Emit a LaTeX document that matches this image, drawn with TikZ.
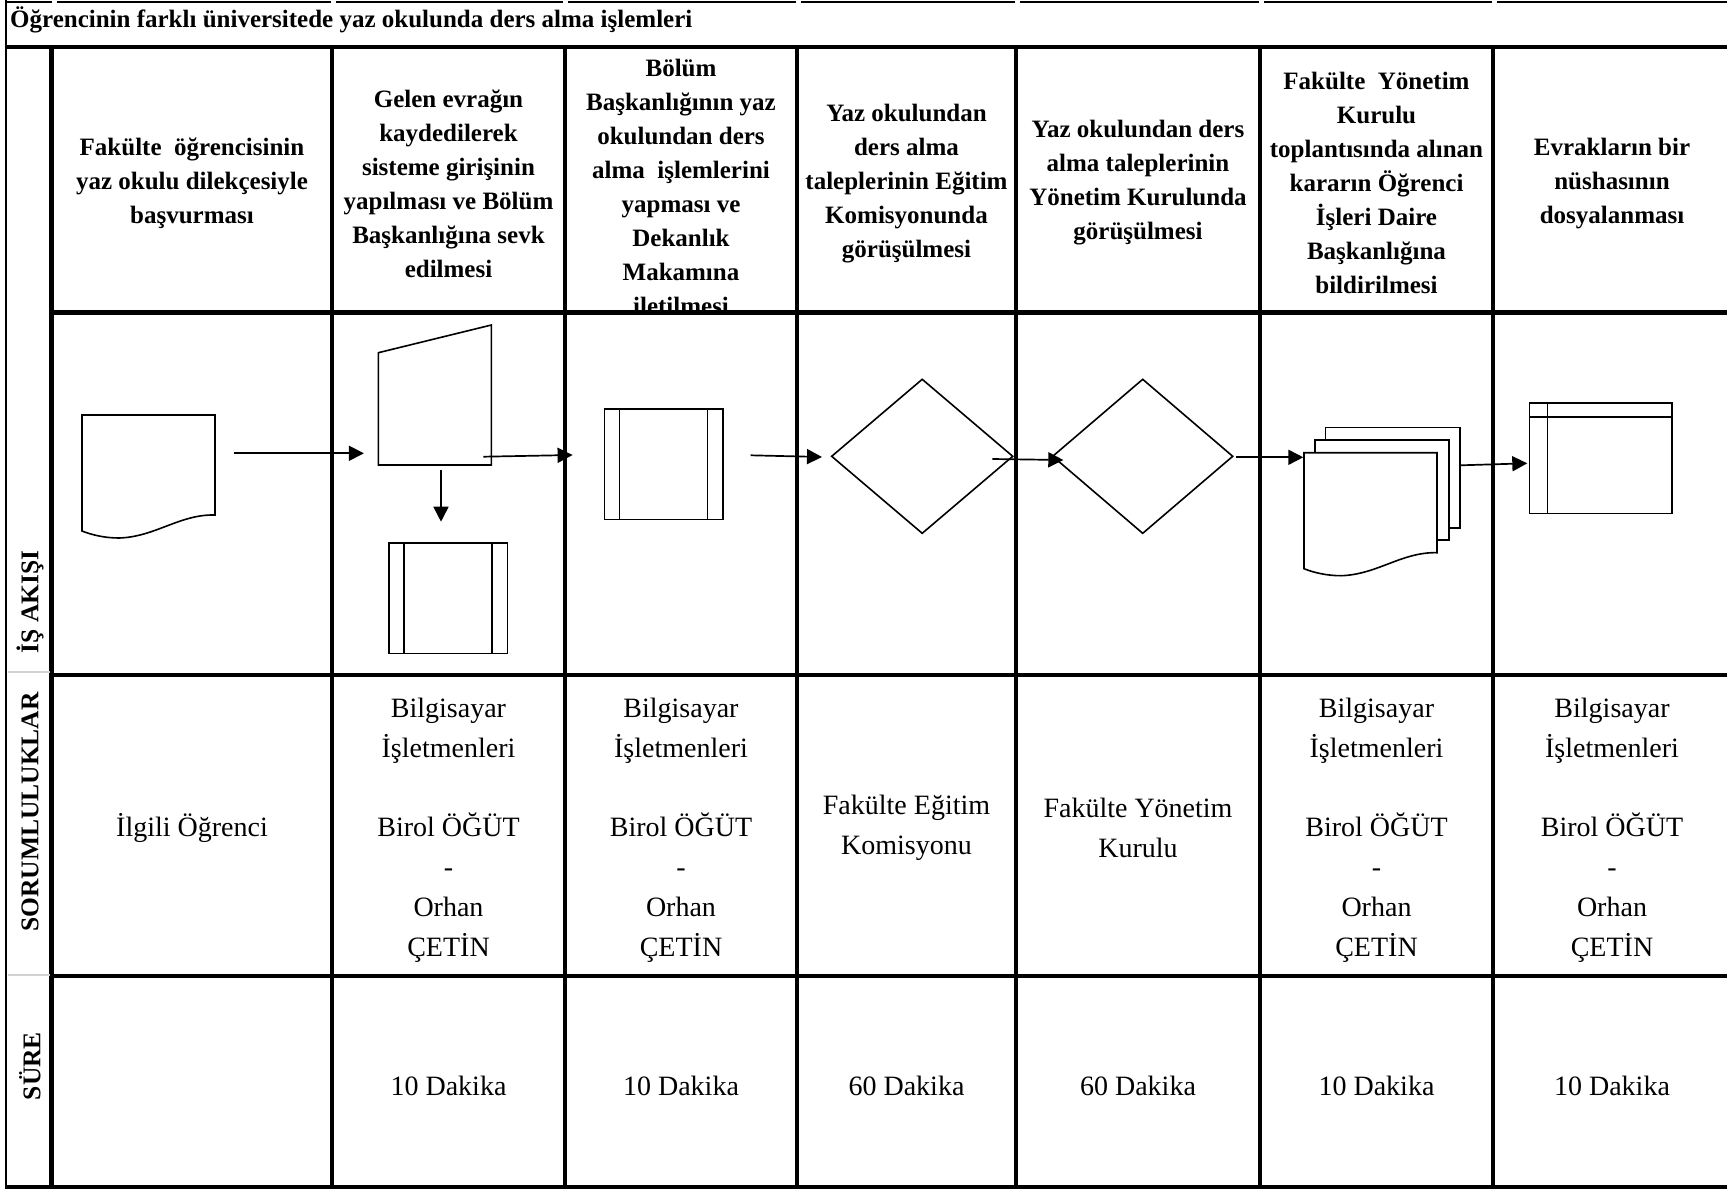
\documentclass[tikz,border=0pt]{standalone}
\usepackage{fontspec}
\setmainfont{Liberation Serif}
\usetikzlibrary{arrows.meta}

\begin{document}
\begin{tikzpicture}[x=1pt,y=-1pt,
  grid/.style={line width=4.5pt},
  frame/.style={line width=2.4pt},
  sep/.style={gray!35, line width=2pt},
  outline/.style={line width=1.6pt, line join=miter},
  flow/.style={line width=1.7pt, -{Triangle[length=15pt,width=15pt]}},
  holder/.style={draw=none, inner sep=0pt, outer sep=0pt, anchor=north west},
  head/.style={font=\bfseries\fontsize{25}{34}\selectfont, align=center, inner sep=0pt},
  body/.style={font=\fontsize{28}{39.8}\selectfont, align=center, inner sep=0pt},
  side/.style={font=\bfseries\fontsize{25.5}{28}\selectfont, rotate=90, inner sep=0pt},
  predef/.style={holder, draw, line width=1.6pt,
    path picture={
      \draw[line width=1.6pt] ([xshift=15.3pt]path picture bounding box.north west) -- ([xshift=15.3pt]path picture bounding box.south west);
      \draw[line width=1.6pt] ([xshift=-15.3pt]path picture bounding box.north east) -- ([xshift=-15.3pt]path picture bounding box.south east);}},
  storage/.style={holder, draw, line width=1.6pt,
    path picture={
      \draw[line width=1.6pt] ([yshift=-14.3pt]path picture bounding box.north west) -- ([yshift=-14.3pt]path picture bounding box.north east);
      \draw[line width=1.6pt] ([xshift=18pt]path picture bounding box.north west) -- ([xshift=18pt]path picture bounding box.south west);}},
  docsheet/.pic={
    \filldraw[outline, fill=white] (0,0) -- (133,0) -- (133,100)
      .. controls (98,99) and (73,122) .. (37,123)
      .. controls (23,123) and (10,120) .. (0,116) -- cycle;}
]
\useasboundingbox (0,0) rectangle (1727,1189);

% ---------- table frame ----------
\draw[frame] (6,0) -- (6,1189);
\foreach \a/\b in {5/52.2, 57.2/330.5, 335.5/562.5, 567.5/795.5, 800.5/1014.5, 1019.5/1258.5, 1263.5/1491.5, 1496.5/1727}
  \draw[frame] (\a,2) -- (\b,2);
\draw[grid] (5,47) -- (1727,47);
\draw[grid] (51.7,312.5) -- (1727,312.5);
\draw[grid] (51.7,675) -- (1727,675);
\draw[grid] (51.7,976) -- (1727,976);
\draw[grid] (5,1186.8) -- (1727,1186.8);
\foreach \x in {51.7,332,565,797,1016,1260,1493}
  \draw[grid] (\x,47) -- (\x,1189);
\draw[sep] (7.5,672) -- (49.5,672);
\draw[sep] (7.5,975) -- (49.5,975);

% ---------- title ----------
\node[anchor=base west, inner sep=0pt, font=\bfseries\fontsize{25}{30}\selectfont] (title) at (10,27)
  {Öğrencinin farklı üniversitede yaz okulunda ders alma işlemleri};

% ---------- side labels ----------
\node[side] (s1) at (30,602) {İŞ AKIŞI};
\node[side] (s2) at (30,812) {SORUMLULUKLAR};
\node[side] (s3) at (30,1066) {SÜRE};

% ---------- step headings ----------
\node[head] (h1) at (192,183.3) {Fakülte~ öğrencisinin\\yaz okulu dilekçesiyle\\başvurması};
\node[head] (h2) at (448.5,184) {Gelen evrağın\\kaydedilerek\\sisteme girişinin\\yapılması ve Bölüm\\Başkanlığına sevk\\edilmesi};
\begin{scope}
  \clip (567,49) rectangle (795,310);
  \node[head] (h3) at (681,187) {Bölüm\\Başkanlığının yaz\\okulundan ders\\alma~ işlemlerini\\yapması ve\\Dekanlık\\Makamına\\iletilmesi};
\end{scope}
\node[head] (h4) at (906.5,183.3) {Yaz okulundan\\ders alma\\taleplerinin Eğitim\\Komisyonunda\\görüşülmesi};
\node[head] (h5) at (1138,183) {Yaz okulundan ders\\alma taleplerinin\\Yönetim Kurulunda\\görüşülmesi};
\node[head] (h6) at (1376.5,183.3) {Fakülte~ Yönetim\\Kurulu\\toplantısında alınan\\kararın Öğrenci\\İşleri Daire\\Başkanlığına\\bildirilmesi};
\node[head] (h7) at (1612,183.3) {Evrakların bir\\nüshasının\\dosyalanması};

% ---------- flow symbols ----------
\node[holder, minimum width=133pt, minimum height=100pt] (doc1) at (82,415) {};
\pic at (doc1.north west) {docsheet};

\node[holder, minimum width=113pt, minimum height=140pt] (man) at (378.4,325) {};
\draw[outline] ([yshift=-27.7pt]man.north west) -- (man.north east) -- (man.south east) -- (man.south west) -- cycle;

\node[predef, minimum width=118.8pt, minimum height=110.6pt] (pp1) at (388.7,542.7) {};
\node[predef, minimum width=118.5pt, minimum height=110.3pt] (pp2) at (604.3,409) {};

\node[holder, minimum width=181pt, minimum height=154pt] (dia1) at (831.7,379.3) {};
\draw[outline] (dia1.west) -- (dia1.north) -- (dia1.east) -- (dia1.south) -- cycle;
\node[holder, minimum width=180pt, minimum height=154pt] (dia2) at (1052.7,379.3) {};
\draw[outline] (dia2.west) -- (dia2.north) -- (dia2.east) -- (dia2.south) -- cycle;

\node[holder, minimum width=156pt, minimum height=150pt] (mdoc) at (1304,427.3) {};
\begin{scope}[shift={(mdoc.north west)}]
  \filldraw[outline, fill=white] (21.3,0) rectangle (156,100.4);
  \filldraw[outline, fill=white] (11,12.7) rectangle (145,112.7);
  \pic at (0,25.4) {docsheet};
\end{scope}

\node[storage, minimum width=142.7pt, minimum height=110.6pt] (stor) at (1529.3,402.7) {};

% ---------- connectors ----------
\coordinate (a1s) at (233.6,453.3);  \coordinate (a1e) at (363.9,453.3);
\coordinate (a2s) at (441,470);      \coordinate (a2e) at (441,521.7);
\coordinate (a3s) at (483.3,456.7);  \coordinate (a3e) at (572.6,455);
\coordinate (a4s) at (750.7,455.3);  \coordinate (a4e) at (822,457);
\coordinate (a5s) at (992.3,459);    \coordinate (a5e) at (1063.3,460);
\coordinate (a6s) at (1236,457.3);   \coordinate (a6e) at (1303.3,457.3);
\coordinate (a7s) at (1460.7,465.3); \coordinate (a7e) at (1527.3,463.3);
\draw[flow] (a1s) -- (a1e);
\draw[flow] (a2s) -- (a2e);
\draw[flow] (a3s) -- (a3e);
\draw[flow] (a4s) -- (a4e);
\draw[flow] (a5s) -- (a5e);
\draw[flow] (a6s) -- (a6e);
\draw[flow] (a7s) -- (a7e);

% ---------- responsibilities ----------
\node[body] (r1) at (192,828) {İlgili Öğrenci};
\node[body] (r2) at (448.5,830) {Bilgisayar\\İşletmenleri\\[39.8pt]Birol ÖĞÜT\\-\\Orhan\\ÇETİN};
\node[body] (r3) at (681,830) {Bilgisayar\\İşletmenleri\\[39.8pt]Birol ÖĞÜT\\-\\Orhan\\ÇETİN};
\node[body] (r4) at (906.5,828) {Fakülte Eğitim\\Komisyonu};
\node[body] (r5) at (1138,828) {Fakülte Yönetim\\Kurulu};
\node[body] (r6) at (1376.5,830) {Bilgisayar\\İşletmenleri\\[39.8pt]Birol ÖĞÜT\\-\\Orhan\\ÇETİN};
\node[body] (r7) at (1612,830) {Bilgisayar\\İşletmenleri\\[39.8pt]Birol ÖĞÜT\\-\\Orhan\\ÇETİN};

% ---------- durations ----------
\node[body] (d2) at (448.5,1086) {10 Dakika};
\node[body] (d3) at (681,1086) {10 Dakika};
\node[body] (d4) at (906.5,1086) {60 Dakika};
\node[body] (d5) at (1138,1086) {60 Dakika};
\node[body] (d6) at (1376.5,1086) {10 Dakika};
\node[body] (d7) at (1612,1086) {10 Dakika};
\end{tikzpicture}
\end{document}
